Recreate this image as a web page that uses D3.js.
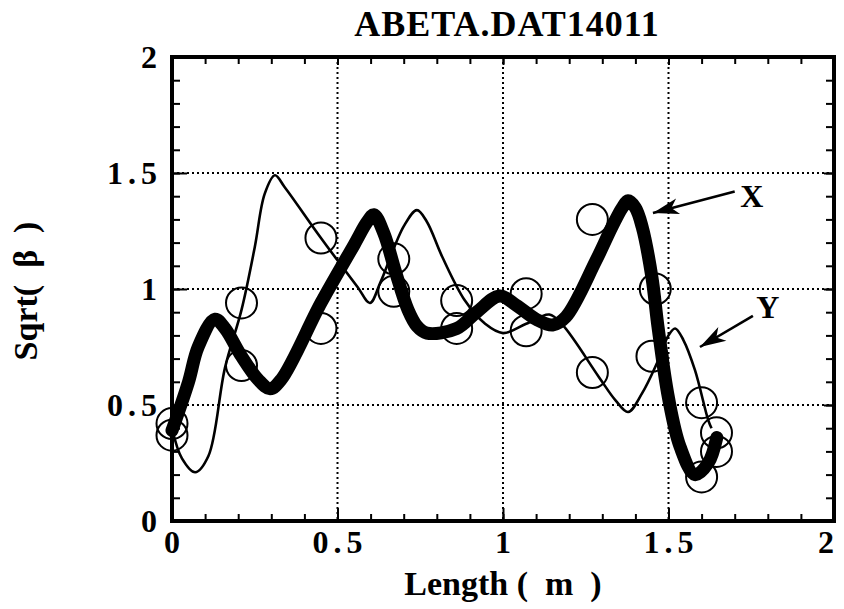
<!DOCTYPE html>
<html>
<head>
<meta charset="utf-8">
<script src="https://cdn.jsdelivr.net/npm/d3@7"></script>
<style>
  body { margin: 0; background: #fff; }
  text { font-family: "Liberation Serif", "Times New Roman", serif; font-weight: bold; fill: #000; }
</style>
</head>
<body>
<div id="chart"></div>
<script>
// Data (Length in m, Sqrt(beta))
const xLength = [0.0, 0.05, 0.079, 0.13, 0.16, 0.21, 0.26, 0.296, 0.33, 0.45, 0.55, 0.59, 0.61, 0.64, 0.674, 0.713, 0.74, 0.77, 0.86, 0.92, 0.99, 1.04, 1.10, 1.15, 1.19, 1.28, 1.33, 1.36, 1.378, 1.40, 1.42, 1.45, 1.468, 1.50, 1.535, 1.58, 1.62, 1.646];
const xBeta   = [0.39, 0.60, 0.75, 0.87, 0.83, 0.71, 0.61, 0.57, 0.61, 0.94, 1.19, 1.29, 1.32, 1.24, 1.08, 0.91, 0.84, 0.81, 0.83, 0.90, 0.97, 0.93, 0.87, 0.845, 0.88, 1.12, 1.27, 1.35, 1.38, 1.35, 1.27, 1.05, 0.84, 0.53, 0.32, 0.20, 0.25, 0.36];

const yLength = [0.0, 0.03, 0.07, 0.11, 0.16, 0.21, 0.25, 0.28, 0.311, 0.34, 0.45, 0.56, 0.598, 0.63, 0.70, 0.74, 0.77, 0.816, 0.885, 0.946, 1.0, 1.07, 1.14, 1.18, 1.29, 1.34, 1.378, 1.42, 1.465, 1.50, 1.52, 1.545, 1.58, 1.62, 1.63];
const yBeta   = [0.40, 0.27, 0.21, 0.28, 0.66, 0.91, 1.18, 1.41, 1.49, 1.44, 1.22, 1.01, 0.94, 1.03, 1.27, 1.34, 1.29, 1.14, 0.95, 0.85, 0.81, 0.85, 0.89, 0.845, 0.62, 0.52, 0.47, 0.55, 0.68, 0.80, 0.83, 0.78, 0.65, 0.435, 0.40];

// Measured points (circles)
const measLength = [0.0, 0.0, 0.21, 0.21, 0.45, 0.45, 0.67, 0.67, 0.86, 0.86, 1.07, 1.07, 1.27, 1.27, 1.46, 1.45, 1.60, 1.645, 1.645, 1.60];
const measBeta   = [0.42, 0.37, 0.94, 0.67, 1.22, 0.83, 1.13, 0.99, 0.95, 0.83, 0.98, 0.82, 0.64, 1.30, 1.00, 0.71, 0.51, 0.38, 0.30, 0.19];

// Annotation arrows
const arrowLabels = ["X", "Y"];
const arrowTail = [[1.70, 1.42], [1.755, 0.884]];
const arrowTip  = [[1.453, 1.328], [1.595, 0.75]];
const labelPos  = [[1.752, 1.40], [1.80, 0.92]];

const majorTicks = [0, 0.5, 1, 1.5, 2];
const minorTicks = d3.range(0, 2.001, 0.1).map(d => +d.toFixed(1));
const gridTicks = [0.5, 1, 1.5];

const W = 844, H = 609;
const plotLeft = 172, plotRight = 834, plotTop = 57, plotBottom = 521;

const svg = d3.select("#chart").append("svg")
    .attr("width", W)
    .attr("height", H);

const x = d3.scaleLinear().domain([0, 2]).range([plotLeft, plotRight]);
const y = d3.scaleLinear().domain([0, 2]).range([plotBottom, plotTop]);

// Dotted grid
svg.append("g")
    .selectAll("line")
    .data(gridTicks)
    .enter().append("line")
    .attr("x1", d => x(d)).attr("x2", d => x(d))
    .attr("y1", plotTop).attr("y2", plotBottom)
    .attr("stroke", "#000").attr("stroke-width", 2)
    .attr("stroke-dasharray", "2,3");

svg.append("g")
    .selectAll("line")
    .data(gridTicks)
    .enter().append("line")
    .attr("y1", d => y(d)).attr("y2", d => y(d))
    .attr("x1", plotLeft).attr("x2", plotRight)
    .attr("stroke", "#000").attr("stroke-width", 2)
    .attr("stroke-dasharray", "2,3");

// Axes: minor ticks, major ticks, labels
function tickAxis(axisFn, scale, values, size, transform, labels) {
    const g = svg.append("g")
        .attr("transform", transform)
        .call(axisFn(scale).tickValues(values).tickSize(size).tickSizeOuter(0)
            .tickFormat(labels ? d3.format("") : ""));
    g.select(".domain").remove();
    g.selectAll(".tick line").attr("stroke", "#000").attr("stroke-width", 2);
    return g;
}

tickAxis(d3.axisBottom, x, minorTicks, -7, `translate(0,${plotBottom})`, false);
tickAxis(d3.axisTop, x, minorTicks, -7, `translate(0,${plotTop})`, false);
tickAxis(d3.axisLeft, y, minorTicks, -8, `translate(${plotLeft},0)`, false);
tickAxis(d3.axisRight, y, minorTicks, -8, `translate(${plotRight},0)`, false);

const xAxis = tickAxis(d3.axisBottom, x, majorTicks, -13, `translate(0,${plotBottom})`, true);
xAxis.selectAll(".tick text")
    .attr("y", 32)
    .attr("dy", 0)
    .attr("dx", d => d === 2 ? "-6px" : "2px")
    .attr("font-family", null)
    .attr("font-size", null)
    .style("font-size", "32px")
    .style("letter-spacing", "5px")
    .attr("fill", "#000");

const yAxis = tickAxis(d3.axisLeft, y, majorTicks, -15, `translate(${plotLeft},0)`, true);
yAxis.selectAll(".tick text")
    .attr("x", -10)
    .attr("dy", "0.34em")
    .attr("font-family", null)
    .attr("font-size", null)
    .style("font-size", "32px")
    .style("letter-spacing", "5px")
    .attr("fill", "#000");

tickAxis(d3.axisRight, y, majorTicks, -10, `translate(${plotRight},0)`, false);
tickAxis(d3.axisTop, x, majorTicks, -8, `translate(0,${plotTop})`, false);

// Frame
svg.append("rect")
    .attr("x", plotLeft).attr("y", plotTop)
    .attr("width", plotRight - plotLeft).attr("height", plotBottom - plotTop)
    .attr("fill", "none").attr("stroke", "#000").attr("stroke-width", 4);

const line = d3.line()
    .x(d => x(d[0]))
    .y(d => y(d[1]))
    .curve(d3.curveCatmullRom.alpha(0.5));

// Y (thin)
svg.append("path")
    .datum(yLength.map((d, i) => [d, yBeta[i]]))
    .attr("d", line)
    .attr("fill", "none").attr("stroke", "#000").attr("stroke-width", 2.6)
    .attr("stroke-linejoin", "round");

// X (thick)
svg.append("path")
    .datum(xLength.map((d, i) => [d, xBeta[i]]))
    .attr("d", line)
    .attr("fill", "none").attr("stroke", "#000").attr("stroke-width", 13)
    .attr("stroke-linejoin", "round").attr("stroke-linecap", "round");

// Measured circles
svg.append("g")
    .selectAll("circle")
    .data(measLength.map((d, i) => [d, measBeta[i]]))
    .enter().append("circle")
    .attr("cx", d => x(d[0]))
    .attr("cy", d => y(d[1]))
    .attr("r", 15.5)
    .attr("fill", "none")
    .attr("stroke", "#000")
    .attr("stroke-width", 2);

// Arrows
svg.append("defs").append("marker")
    .attr("id", "arrowhead")
    .attr("viewBox", "-28 -9 30 18")
    .attr("refX", 0).attr("refY", 0)
    .attr("markerWidth", 30).attr("markerHeight", 18)
    .attr("markerUnits", "userSpaceOnUse")
    .attr("orient", "auto")
    .append("path")
    .attr("d", "M0,0 L-26,-8 L-19,0 L-26,8 Z")
    .attr("fill", "#000");

arrowLabels.forEach((lab, i) => {
    svg.append("line")
        .attr("x1", x(arrowTail[i][0])).attr("y1", y(arrowTail[i][1]))
        .attr("x2", x(arrowTip[i][0])).attr("y2", y(arrowTip[i][1]))
        .attr("stroke", "#000").attr("stroke-width", 2.6)
        .attr("marker-end", "url(#arrowhead)");
    svg.append("text")
        .attr("x", x(labelPos[i][0]))
        .attr("y", y(labelPos[i][1]))
        .attr("dy", "0.34em")
        .attr("text-anchor", "middle")
        .style("font-size", "32px")
        .text(lab);
});

// Titles
svg.append("text")
    .attr("x", 507).attr("y", 36)
    .attr("text-anchor", "middle")
    .style("font-size", "36px")
    .style("letter-spacing", "1px")
    .text("ABETA.DAT14011");

svg.append("text")
    .attr("x", 503).attr("y", 595)
    .attr("text-anchor", "middle")
    .style("font-size", "34px")
    .style("white-space", "pre")
    .text("Length (  m  )");

svg.append("text")
    .attr("transform", "translate(37,291) rotate(-90)")
    .attr("text-anchor", "middle")
    .style("font-size", "34px")
    .style("white-space", "pre")
    .text("Sqrt(  β  )");
</script>
</body>
</html>
